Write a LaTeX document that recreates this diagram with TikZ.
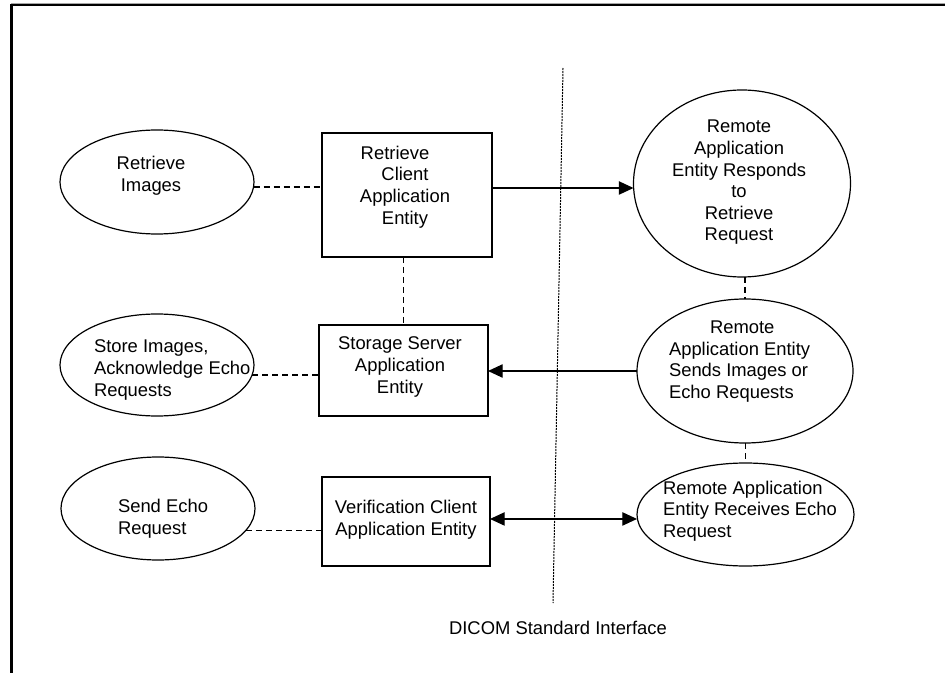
\documentclass[tikz,border=0pt]{standalone}
\usepackage{fontspec}
\setmainfont{Liberation Sans}
\usetikzlibrary{arrows.meta,shapes.geometric}
\begin{document}
\begin{tikzpicture}[x=0.75pt,y=-0.75pt,
  every node/.style={font=\fontsize{13.8pt}{16.2pt}\selectfont},
  oval/.style={draw,ellipse,line width=0.9pt,inner sep=0pt,outer sep=0pt},
  boxnode/.style={draw,rectangle,line width=0.9pt,inner sep=0pt,outer sep=0pt},
  txt/.style={inner sep=0pt,outer sep=0pt},
  dashline/.style={line width=0.9pt,dash pattern=on 4.5pt off 3pt},
  dotline/.style={line width=0.75pt,dash pattern=on 1.5pt off 0.75pt},
  arr/.style={line width=0.9pt,-{Triangle[length=11pt,width=10pt]}},
  dblarr/.style={line width=0.9pt,{Triangle[length=11pt,width=10pt]}-{Triangle[length=11pt,width=10pt]}}
]
\useasboundingbox (0,0) rectangle (945,673);
% frame
\draw[gray!70,line width=1pt] (11,3.5) -- (945,3.5);
\draw[line width=1pt] (11,5) -- (945,5);
\draw[line width=1.6pt] (11.5,4) -- (11.5,673);

% interface line
\coordinate (IT) at (563,68);
\coordinate (IB) at (553,603);
\draw[dotline] (IT) -- (IB);
\node[txt] (DI) at (558,628) {DICOM Standard Interface};

% left ellipses
\node[oval,minimum width=145.5pt,minimum height=78pt] (RI) at (157,182) {};
\node[txt,align=center] (RIt) at (151,176) {Retrieve\\Images};
\node[oval,minimum width=145.5pt,minimum height=76.5pt] (SI) at (157,365) {};
\node[txt,align=left,anchor=west] (SIt) at (94,370) {Store Images,\\Acknowledge Echo\\Requests};
\node[oval,minimum width=145.5pt,minimum height=77.25pt] (SE) at (158,508.5) {};
\node[txt,align=left,anchor=west] (SEt) at (118,519) {Send Echo\\Request};

% boxes
\node[boxnode,minimum width=127.5pt,minimum height=93pt] (RC) at (407,195) {};
\node[txt,align=center] (RCt) at (405,187) {Retrieve\rule{15pt}{0pt}\\Client\\Application\\Entity};
\node[boxnode,minimum width=126.75pt,minimum height=68.25pt] (SS) at (403.5,370.5) {};
\node[txt,align=center] (SSt) at (400,367) {Storage Server\\Application\\Entity};
\node[boxnode,minimum width=126pt,minimum height=66.75pt] (VC) at (406,521.5) {};
\node[txt,align=center] (VCt) at (406,519.5) {Verification Client\\Application Entity};

% right ellipses
\node[oval,minimum width=162.75pt,minimum height=140.25pt] (RR) at (742,183.5) {};
\node[txt,align=center] (RRt) at (739,182.5) {Remote\\Application\\Entity Responds\\to\\Retrieve\\Request};
\node[oval,minimum width=162pt,minimum height=108pt] (RS) at (745,371) {};
\node[txt,align=left,anchor=west] (RSt) at (669,361.5) {\hspace*{30.75pt}Remote\\Application Entity\\Sends Images or\\Echo Requests};
\node[oval,minimum width=162.75pt,minimum height=77.25pt] (RE) at (745.5,514.5) {};
\node[txt,align=left,anchor=west] (REt) at (663,511) {Remote Application\\Entity Receives Echo\\Request};

% connectors
\draw[dashline] (RI.-3.6) -- (RI.-3.6 -| RC.west);
\draw[dashline] (SI.-6) -- (SI.-6 -| SS.west);
\draw[dashline] (SE.-14) -- (SE.-14 -| VC.west);
\draw[dashline] (SS.north |- RC.south) -- (SS.north);
\draw[dashline] (RS.north |- RR.south) -- (RS.north);
\draw[dashline] (RE.north |- RS.south) -- (RE.north);
\draw[arr] ([yshift=5.25pt]RC.east) -- ([yshift=5.25pt]RC.east -| RR.west);
\draw[arr] (RS.west) -- (RS.west -| SS.east);
\draw[dblarr] ([yshift=1.9pt]VC.east) -- ([yshift=1.9pt]VC.east -| RE.west);
\end{tikzpicture}
\end{document}
